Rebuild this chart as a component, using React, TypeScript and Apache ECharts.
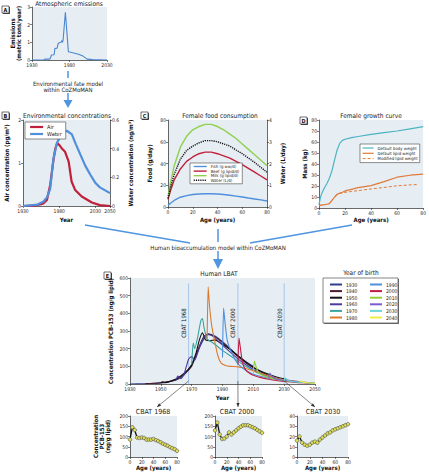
import React, { useEffect, useRef } from "react";
import * as echarts from "echarts";

const FONT = "'Liberation Sans Narrow','DejaVu Sans Condensed','Liberation Sans',Arial,sans-serif";
const BG = "#e6edf3";
const AX = "#2a2a2a";
const ARROW = "#4f95e0";

// ---- Panel A: atmospheric emissions (metric tons/year)
const EMIS_YEARS = [1930, 1946, 1947, 1953, 1954, 1956, 1959.5, 1960.5, 1963.5, 1965, 1968.5, 1970, 1970.7, 1971.5, 1974.5, 1978.5, 1983, 1992, 1998, 2003.5, 2011, 2030];
const EMIS_VALUES = [0, 0, 0.05, 0.05, 0.06, 0.28, 0.3, 0.65, 0.67, 0.95, 1.0, 1.1, 1.0, 1.15, 2.7, 0.47, 0.42, 0.33, 0.22, 0.05, 0.02, 0];

// ---- Panel B: environmental concentrations
const AIR_YEARS = [1930, 1945, 1955, 1958, 1963, 1967.5, 1972, 1974.5, 1977, 1980, 1984, 1988, 1993, 1997, 2002, 2011, 2025, 2036, 2050];
const AIR_VALUES = [0, 0.01, 0.04, 0.06, 0.14, 0.49, 1.07, 1.33, 1.46, 1.42, 1.33, 1.26, 1.03, 0.57, 0.37, 0.22, 0.08, 0.02, 0];
const WATER_YEARS = [1930, 1950, 1958, 1963, 1967.5, 1972, 1976.8, 1983.7, 1990.5, 1997.4, 2003, 2009, 2016, 2022.7, 2030, 2036, 2050];
const WATER_VALUES = [0, 0.01, 0.03, 0.06, 0.12, 0.33, 0.44, 0.51, 0.525, 0.5, 0.43, 0.36, 0.28, 0.22, 0.16, 0.13, 0.09];

// ---- Panel C: female food consumption
const FOOD_AGES = [0, 2, 5, 10, 15, 20, 25, 30, 35, 40, 45, 50, 55, 60, 65, 70, 75, 80];
const FISH = [1.5, 3.5, 6, 9, 10.5, 11.5, 12, 12.2, 12.2, 12, 11.5, 10.8, 10, 9.2, 8.3, 7.4, 6.5, 5.5];
const BEEF = [7, 15, 25, 35, 42, 46, 49, 50.5, 50.5, 49, 47, 45, 42, 39, 35.5, 32, 28.5, 25];
const MILK = [10, 22, 38, 55, 65, 71, 74, 76, 76, 74, 71, 67, 63, 58, 53, 48, 43, 38];
const WATER_L = [0.4, 0.9, 1.5, 2.2, 2.6, 2.8, 2.95, 3.05, 3.05, 3.0, 2.9, 2.8, 2.62, 2.45, 2.25, 2.05, 1.82, 1.6];

// ---- Panel D: female growth curve
const GROWTH_AGES = [0, 1, 2, 4, 6, 8, 10, 12, 14, 16, 18, 20, 25, 30, 40, 50, 60, 70, 80];
const BODY_WEIGHT = [3, 9, 13, 18, 22, 27, 34, 44, 53, 59, 61.5, 62.5, 64, 65, 67, 68.5, 70, 72, 74];
const LIPID_WEIGHT = [2, 2.4, 2.7, 3, 3.4, 4, 7, 10, 12.5, 13.5, 14.3, 15.5, 17, 18.5, 20.3, 24, 28, 29.8, 30.8];
const MOD_AGES = [0, 1, 2, 4, 6, 8, 10, 12, 14, 16, 18, 20, 25, 30, 40, 50, 60, 70, 75];
const MOD_LIPID = [2, 2.4, 2.7, 3, 3.4, 4, 7, 10, 12.5, 13.2, 13.8, 14.3, 15, 15.8, 17.3, 18.7, 20.2, 21, 21.3];

// ---- Panel E: human LBAT by year of birth ([year, ng/g lipid])
const LBAT_1930 = [[1930, 0], [1940, 2], [1950, 6], [1955, 12], [1960, 22], [1965, 50], [1970, 110], [1975, 205], [1978, 255], [1981, 280], [1985, 272], [1990, 240], [1995, 200], [2000, 160], [2005, 128], [2010, 100]];
const LBAT_1940 = [[1940, 2], [1945, 4], [1950, 8], [1955, 14], [1960, 26], [1965, 55], [1970, 100], [1975, 215], [1978, 270], [1981, 284], [1985, 268], [1990, 235], [1995, 195], [2000, 155], [2005, 120], [2010, 92], [2015, 68], [2020, 48]];
const LBAT_1950 = [[1950, 6], [1951, 12], [1953, 8], [1955, 12], [1960, 30], [1965, 60], [1970, 108], [1973, 180], [1975, 250], [1977, 290], [1979, 250], [1982, 245], [1985, 250], [1990, 225], [1995, 195], [2000, 160], [2005, 125], [2010, 95], [2015, 72], [2020, 55], [2025, 40], [2030, 30]];
const LBAT_1960 = [[1960, 25], [1961, 45], [1963, 30], [1965, 55], [1968, 140], [1970, 155], [1972, 135], [1974, 180], [1977, 250], [1980, 280], [1983, 275], [1985, 262], [1990, 220], [1995, 180], [2000, 142], [2005, 110], [2010, 82], [2015, 60], [2020, 45], [2025, 33], [2030, 25], [2035, 18], [2040, 13]];
const LBAT_1970 = [[1970, 110], [1971, 232], [1972, 200], [1974, 270], [1976, 360], [1977, 370], [1978, 320], [1980, 255], [1983, 238], [1985, 225], [1990, 190], [1995, 160], [2000, 130], [2005, 100], [2010, 75], [2015, 55], [2020, 40], [2025, 28], [2030, 20], [2035, 14], [2040, 10], [2045, 7], [2050, 5]];
const LBAT_1980 = [[1980, 250], [1980.7, 550], [1981.5, 450], [1983, 330], [1985, 240], [1987, 160], [1989, 120], [1992, 105], [1995, 100], [2000, 97], [2005, 88], [2010, 75], [2015, 60], [2020, 45], [2025, 33], [2030, 24], [2035, 17], [2040, 12], [2045, 8], [2050, 6]];
const LBAT_1990 = [[1990, 150], [1990.7, 430], [1991.5, 360], [1993, 250], [1995, 195], [1998, 140], [2000, 115], [2003, 90], [2005, 78], [2010, 55], [2015, 42], [2020, 33], [2025, 25], [2030, 19], [2035, 14], [2040, 10], [2045, 7], [2050, 5]];
const LBAT_2000 = [[2000, 110], [2000.7, 260], [2001.5, 210], [2003, 120], [2005, 80], [2008, 58], [2010, 50], [2015, 36], [2020, 27], [2025, 20], [2030, 15], [2035, 11], [2040, 8], [2045, 6], [2050, 4]];
const LBAT_2010 = [[2010, 60], [2010.7, 130], [2011.5, 105], [2013, 70], [2015, 52], [2020, 36], [2025, 26], [2030, 19], [2035, 14], [2040, 10], [2045, 7], [2050, 5]];
const LBAT_2020 = [[2020, 30], [2020.7, 62], [2021.5, 50], [2023, 35], [2025, 28], [2030, 20], [2035, 15], [2040, 11], [2045, 8], [2050, 6]];
const LBAT_2030 = [[2030, 18], [2030.7, 35], [2031.5, 28], [2033, 18], [2035, 14], [2040, 10], [2045, 7], [2050, 5]];
const LBAT_2040 = [[2040, 10], [2040.7, 18], [2041.5, 14], [2043, 9], [2045, 7], [2050, 5]];

const COHORTS = ["1930", "1940", "1950", "1960", "1970", "1980", "1990", "2000", "2010", "2020", "2030", "2040"];
const COHORT_DATA = [LBAT_1930, LBAT_1940, LBAT_1950, LBAT_1960, LBAT_1970, LBAT_1980, LBAT_1990, LBAT_2000, LBAT_2010, LBAT_2020, LBAT_2030, LBAT_2040];
const COHORT_COLORS = ["#2f3f86", "#4b1c2c", "#111111", "#4b3b9e", "#3aa59e", "#dc7a2e", "#4f8fdc", "#c21e45", "#94d03a", "#7a5bd1", "#6ad3d3", "#eeee44"];

// ---- Bottom: CBAT snapshots
const CBAT_YEARS = [1968, 2000, 2030];
const CBAT_AGES = [0, 4, 8, 12, 16, 20, 24, 28, 32, 36, 40, 44, 48, 52, 56, 60, 64, 68, 72, 76, 80];
const CBAT_1968 = [85, 145, 132, 95, 93, 95, 93, 85, 85, 85, 88, 82, 78, 72, 65, 60, 55, 48, 43, 38, 30];
const CBAT_2000 = [130, 168, 110, 88, 90, 100, 120, 110, 120, 130, 140, 148, 155, 155, 155, 150, 145, 140, 132, 125, 118];
const CBAT_2030 = [16, 20, 14, 12, 11, 12, 14, 15, 14, 17, 19, 21, 23, 24, 26, 27, 28, 29, 30, 31, 32];

const zip = (xs: number[], ys: number[]) => xs.map((x, i) => [x, ys[i]]);

const labelStyle = { fontSize: 5, color: AX, margin: 2, fontFamily: FONT, formatter: (v: number) => String(Math.round(v * 100) / 100) };
const nameStyle = { fontSize: 6, fontWeight: "bold", color: "#111", fontFamily: FONT };

function xAx(grid: number, min: number, max: number, interval: number, name = "", nameGap = 10) {
  return {
    type: "value", gridIndex: grid, min, max, interval, name, nameLocation: "middle", nameGap,
    nameTextStyle: nameStyle,
    axisLine: { show: true, onZero: false, lineStyle: { color: AX, width: 0.7 } },
    axisTick: { show: true, length: 2, lineStyle: { color: AX, width: 0.6 } },
    axisLabel: labelStyle,
    splitLine: { show: false },
  };
}
function yAx(grid: number, min: number, max: number, interval: number, name = "", nameGap = 10, position = "left") {
  return {
    type: "value", gridIndex: grid, min, max, interval, name, nameLocation: "middle", nameGap, position,
    nameTextStyle: nameStyle,
    axisLine: { show: true, onZero: false, lineStyle: { color: AX, width: 0.7 } },
    axisTick: { show: true, length: 2, lineStyle: { color: AX, width: 0.6 } },
    axisLabel: labelStyle,
    splitLine: { show: false },
  };
}

const grid = (left: number, top: number, width: number, height: number) => ({
  left, top, width, height, show: true, backgroundColor: BG, borderWidth: 0, containLabel: false,
});

const line = (name: string, xi: number, yi: number, data: number[][], color: string, width: number, type: any = "solid") => ({
  type: "line", name, xAxisIndex: xi, yAxisIndex: yi, data, symbol: "none", showSymbol: false,
  lineStyle: { color, width, type }, itemStyle: { color }, smooth: false, animation: false, z: 3,
});

const legendBase = (data: string[], left: number, top: number, fontSize: number, itemWidth: number, itemHeight: number, itemGap: number, boxed: boolean, lw: number | string = "inherit", pad: number[] = [2, 4, 2, 4]) => ({
  data, left, top, orient: "vertical", itemWidth, itemHeight, itemGap, selectedMode: false,
  textStyle: { fontSize, fontFamily: FONT, color: "#222", padding: [0, 0, 0, -1] },
  backgroundColor: boxed ? "#fff" : "transparent", borderColor: boxed ? "#444" : "transparent", borderWidth: boxed ? 0.6 : 0,
  padding: boxed ? pad : 0, borderRadius: 0,
  itemStyle: { opacity: 0 }, lineStyle: { width: lw },
});

const txt = (x: number, y: number, text: string, size = 6, weight = "normal", align = "center", extra: any = {}) => ({
  type: "text", x, y, z: 10, ...extra,
  style: { text, fontSize: size, fontWeight: weight, fontFamily: FONT, fill: "#1a1a1a", align, verticalAlign: "middle" },
});
const seg = (x1: number, y1: number, x2: number, y2: number, color: string, w: number, z = 6) => ({
  type: "line", z, shape: { x1, y1, x2, y2 }, style: { stroke: color, lineWidth: w },
});
const head = (x1: number, y1: number, x2: number, y2: number, len: number, hw: number, color: string) => {
  const dx = x2 - x1, dy = y2 - y1, L = Math.hypot(dx, dy), ux = dx / L, uy = dy / L;
  const bx = x2 - ux * len, by = y2 - uy * len;
  return { type: "polygon", z: 6, shape: { points: [[x2, y2], [bx - uy * hw, by + ux * hw], [bx + uy * hw, by - ux * hw]] }, style: { fill: color } };
};
const letter = (x: number, y: number, ch: string) => ({
  type: "group", x, y, z: 10, children: [
    { type: "rect", shape: { x: 1, y: 1, width: 7, height: 7 }, style: { fill: "#555" } },
    { type: "rect", shape: { x: 0, y: 0, width: 7, height: 7 }, style: { fill: "#fff", stroke: "#111", lineWidth: 0.6 } },
    { type: "text", x: 3.5, y: 3.8, style: { text: ch, fontSize: 5.5, fontWeight: "bold", fontFamily: FONT, fill: "#111", align: "center", verticalAlign: "middle" } },
  ],
});

export default function App() {
  const ref = useRef<HTMLDivElement>(null);
  useEffect(() => {
    document.body.style.margin = "0";
    const chart = echarts.init(ref.current!, undefined, { renderer: "svg" });
    const option: any = {
      animation: false,
      backgroundColor: "#fff",
      textStyle: { fontFamily: FONT },
      grid: [
        grid(32, 7, 75, 53),
        grid(23, 120, 87, 86),
        grid(168, 120, 99, 87),
        grid(319, 120, 106, 88),
        grid(130, 278, 185, 106),
        grid(130, 416, 47, 41),
        grid(215, 416, 47, 41),
        grid(297, 416, 51, 41),
      ],
      xAxis: [
        xAx(0, 1930, 2030, 50),
        xAx(1, 1930, 2050, 50, "Year", 10),
        xAx(2, 0, 80, 20, "Age (years)", 9),
        xAx(3, 0, 80, 20, "Age (years)", 8),
        xAx(4, 1930, 2050, 20, "Year", 10),
        xAx(5, 0, 80, 20, "Age (years)", 6),
        xAx(6, 0, 80, 20, "Age (years)", 6),
        xAx(7, 0, 80, 20, "Age (years)", 6),
      ],
      yAxis: [
        yAx(0, 0, 3, 1, "Emissions\n(metric tons/year)", 11),
        yAx(1, 0, 2, 1, "Air concentration (pg/m\u00b3)", 14),
        { ...yAx(1, 0, 0.6, 0.2, "Water concentration (ng/m\u00b3)", 17, "right"), axisLabel: { ...labelStyle, formatter: (v: number) => (v === 0 ? "0" : v.toFixed(1)) } },
        yAx(2, 0, 80, 20, "Food (g/day)", 16),
        yAx(2, 0, 4, 1, "Water (L/day)", 12, "right"),
        yAx(3, 0, 80, 10, "Mass (kg)", 10),
        yAx(4, 0, 600, 100, "Concentration PCB-153 (ng/g lipid)", 17),
        yAx(5, 0, 200, 50, "Concentration\nPCB-153\n(ng/g lipid)", 20),
        yAx(6, 0, 200, 50),
        yAx(7, 0, 40, 10),
      ],
      legend: [
        legendBase(["Air", "Water"], 25, 122, 5.5, 13, 5, 1, true),
        legendBase(["Fish (g ww/d)", "Beef (g lipid/d)", "Milk (g lipid/d)", "Water (L/d)"], 190, 163, 4.3, 13, 4, 0.6, true, "inherit", [1.5, 3, 1.5, 3]),
        legendBase(["Default body weight", "Default lipid weight", "Modified lipid weight"], 360, 144, 4.3, 11, 5, 1.3, true, "inherit", [2, 2, 2, 2]),
        legendBase(COHORTS.slice(0, 6), 329, 282, 5, 12, 5, 1.6, false, 2),
        legendBase(COHORTS.slice(6), 369, 282, 5, 12, 5, 1.6, false, 2),
      ],
      series: [
        line("Emissions", 0, 0, zip(EMIS_YEARS, EMIS_VALUES), "#4a86d0", 1.1),
        line("Air", 1, 1, zip(AIR_YEARS, AIR_VALUES), "#c0203a", 2.2),
        line("Water", 1, 2, zip(WATER_YEARS, WATER_VALUES), "#4f8fdc", 2.2),
        line("Fish (g ww/d)", 2, 3, zip(FOOD_AGES, FISH), "#4f8fdc", 1.4),
        line("Beef (g lipid/d)", 2, 3, zip(FOOD_AGES, BEEF), "#c0203a", 1.4),
        line("Milk (g lipid/d)", 2, 3, zip(FOOD_AGES, MILK), "#8fd14f", 1.4),
        line("Water (L/d)", 2, 4, zip(FOOD_AGES, WATER_L), "#111", 1.4, [1.2, 1]),
        line("Default body weight", 3, 5, zip(GROWTH_AGES, BODY_WEIGHT), "#4bb4c2", 1.2),
        line("Default lipid weight", 3, 5, zip(GROWTH_AGES, LIPID_WEIGHT), "#e07b39", 1.2),
        line("Modified lipid weight", 3, 5, zip(MOD_AGES, MOD_LIPID), "#e07b39", 1, [3, 2]),
        ...COHORTS.map((c, i) => ({ ...line(c, 4, 6, COHORT_DATA[i], COHORT_COLORS[i], 1.1), smooth: 0.2 })),
        ...[CBAT_1968, CBAT_2000, CBAT_2030].map((vals, i) => ({
          type: "line", name: "CBAT " + CBAT_YEARS[i], xAxisIndex: 5 + i, yAxisIndex: 7 + i,
          data: zip(CBAT_AGES, vals), symbol: "circle", symbolSize: 3.6, showSymbol: true,
          lineStyle: { color: "#111", width: 1.3 },
          itemStyle: { color: "#dede5c", borderColor: "#333", borderWidth: 0.5 }, z: 3,
        })),
      ],
    };
    chart.setOption(option);

    const p = (gi: number, x: number, y: number) => chart.convertToPixel({ gridIndex: gi } as any, [x, y]) as number[];
    const g: any[] = [
      letter(2, 6, "A"), letter(2, 112, "B"), letter(141, 112, "C"), letter(300, 117, "D"), letter(104, 272, "E"),
      txt(69, 4, "Atmospheric emissions", 6.5),
      txt(67, 116, "Environmental concentrations", 6.5),
      txt(220, 116, "Female food consumption", 6.5),
      txt(371, 116, "Female growth curve", 6.5),
      txt(219, 274, "Human LBAT", 6.5),
      txt(361, 273, "Year of birth", 6.5),
      txt(153, 412, "CBAT 1968", 7), txt(237, 412, "CBAT 2000", 7), txt(323, 412, "CBAT 2030", 7),
      // A -> B arrow
      seg(68, 71, 68, 78, ARROW, 1.5),
      txt(68, 83, "Environmental fate model", 6),
      txt(68, 89.5, "within CoZMoMAN", 6),
      seg(68, 93, 68, 101, ARROW, 1.5),
      head(68, 93, 68, 108, 8, 4.5, ARROW),
      // B,C,D -> E
      seg(85, 225, 190, 243, ARROW, 1.5),
      seg(218, 229, 218, 242, ARROW, 1.5),
      seg(352, 225, 250, 243, ARROW, 1.5),
      txt(218, 247.5, "Human bioaccumulation model within CoZMoMAN", 6),
      seg(218, 251, 218, 260, ARROW, 1.5),
      head(218, 251, 218, 269, 10, 5, ARROW),
      // legend box E
      { type: "rect", z: 1, shape: { x: 324, y: 279, width: 75, height: 45 }, style: { fill: "#777" } },
      { type: "rect", z: 2, shape: { x: 323, y: 278, width: 75, height: 45 }, style: { fill: "#fff", stroke: "#333", lineWidth: 0.6 } },
    ];
    const targets = [[157, 407], [238, 407], [315, 407]];
    CBAT_YEARS.forEach((yr, i) => {
      const top = p(4, yr, 570);
      const bot = p(4, yr, 0);
      g.push({ type: "line", z: 1, shape: { x1: top[0], y1: top[1], x2: bot[0], y2: bot[1] }, style: { stroke: "#a6c6ea", lineWidth: 1 } });
      g.push(txt(top[0] - 5, 323, "CBAT " + yr, 6, "normal", "center", { rotation: Math.PI / 2 }));
      const [tx, ty] = targets[i];
      g.push(seg(bot[0], bot[1] - 3, tx, ty, "#333", 0.6));
      g.push(head(bot[0], bot[1] - 3, tx, ty, 4, 1.6, "#333"));
    });
    chart.setOption({ graphic: g });
    return () => chart.dispose();
  }, []);
  return <div ref={ref} style={{ width: 429, height: 472 }} />;
}
